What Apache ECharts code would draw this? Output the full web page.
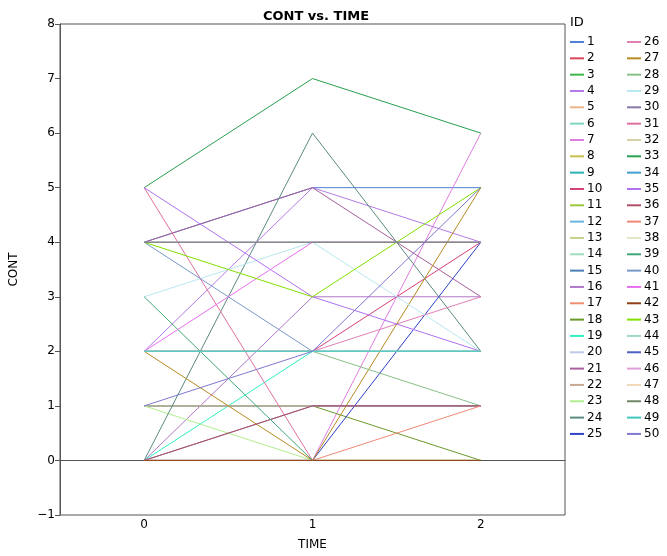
<!DOCTYPE html>
<html>
<head>
<meta charset="utf-8">
<script src="https://cdn.jsdelivr.net/npm/echarts@6/dist/echarts.min.js"></script>
<style>
  html, body { margin: 0; padding: 0; background: #fff; }
  #chart { width: 667px; height: 556px; }
</style>
</head>
<body>
<div id="chart"></div>
<script>
// Measurement times and subject IDs
const times = ['0', '1', '2'];
const ids = Array.from({ length: 50 }, (_, i) => String(i + 1));

// CONT per subject (index = ID - 1) at each time point
const cont0 = [4,0,1,2,0,2,0,0,2,2, 0,2,1,0,1,0,0,1,0,1, 4,1,1,0,0,2,2,2,3,0, 5,0,5,2,5,0,0,0,3,4, 2,0,4,2,4,4,2,4,2,1];
const cont1 = [5,0,1,5,0,2,0,0,2,2, 0,2,1,0,1,3,0,1,2,1, 5,1,0,6,0,2,0,2,4,1, 0,0,7,2,3,1,0,0,0,2, 4,0,3,2,4,4,2,4,2,2];
const cont2 = [5,0,1,4,0,2,6,0,2,4, 0,2,1,0,1,3,0,0,2,1, 3,1,0,2,4,3,5,1,2,1, 0,0,6,2,2,1,1,0,0,2, 4,0,5,2,4,4,2,4,2,5];

// Y-axis range and tick step
const yMin = -1, yMax = 8, yStep = 1;

// One colour per subject
const palette = [
  '#4f7fd6','#d9485a','#3cb84a','#b57be6','#eab58a','#7fd6c0','#e07de0','#c8c04a','#2ab0b8','#d6407a',
  '#9cc43c','#6ab4e0','#c8d08a','#a0dcc0','#4a80b8','#b078c8','#f09070','#6a9a2a','#30f0c0','#c0c8e8',
  '#a8609a','#c8a890','#b0ee90','#5a8a80','#3040c8','#e080b8','#b88a20','#88c088','#b8e8f0','#8878a8',
  '#e070a0','#d8d0a8','#28a050','#40a0d0','#b070f0','#b05068','#f08878','#e0e8c8','#40a878','#7898c8',
  '#e870f0','#904018','#80e000','#a0d8c8','#5060c0','#e0a0d8','#f0d8b8','#708868','#40c8c0','#8078d0'
];

const FONT = 'DejaVu Sans';

const series = ids.map((id, i) => ({
  name: id,
  type: 'line',
  data: [cont0[i], cont1[i], cont2[i]],
  symbol: 'none',
  showSymbol: false,
  color: palette[i],
  lineStyle: { width: 1, color: palette[i] },
  emphasis: { disabled: true },
  animation: false
}));

const legendCommon = {
  orient: 'vertical',
  top: 35,
  icon: 'rect',
  itemWidth: 14,
  itemHeight: 2,
  itemGap: 2.33,
  selectedMode: false,
  textStyle: { fontFamily: FONT, fontSize: 12, color: '#000', lineHeight: 14, padding: [0, 0, 0, -2] },
  padding: 0
};

const chart = echarts.init(document.getElementById('chart'), null, { renderer: 'canvas' });
chart.setOption({
  animation: false,
  backgroundColor: '#fff',
  title: [
    {
      text: 'CONT vs. TIME',
      left: 311, top: 5, textAlign: 'center',
      textStyle: { fontFamily: FONT, fontSize: 13, fontWeight: 'bold', color: '#000' }
    },
    {
      text: 'ID',
      left: 565, top: 11,
      textStyle: { fontFamily: FONT, fontSize: 13, fontWeight: 'normal', color: '#000' }
    }
  ],
  legend: [
    Object.assign({ left: 570, data: ids.slice(0, 25) }, legendCommon),
    Object.assign({ left: 627, data: ids.slice(25) }, legendCommon)
  ],
  grid: { left: 58, right: 102, top: 24, bottom: 31, show: true, borderColor: '#555', borderWidth: 1 },
  xAxis: {
    type: 'category',
    data: times,
    boundaryGap: true,
    name: 'TIME',
    nameLocation: 'middle',
    nameGap: 24,
    nameTextStyle: { fontFamily: FONT, fontSize: 12, color: '#000' },
    axisLine: { lineStyle: { color: '#555' } },
    axisTick: { alignWithLabel: true, length: 5, lineStyle: { color: '#555' } },
    axisLabel: { fontFamily: FONT, fontSize: 12, color: '#000', margin: 4 },
    splitLine: { show: false }
  },
  yAxis: {
    type: 'value',
    min: yMin, max: yMax, interval: yStep,
    name: 'CONT',
    nameLocation: 'middle',
    nameGap: 40,
    nameRotate: 90,
    nameTextStyle: { fontFamily: FONT, fontSize: 12, color: '#000' },
    axisLine: { show: true, lineStyle: { color: '#555' } },
    axisTick: { show: true, length: 5, lineStyle: { color: '#555' } },
    axisLabel: { fontFamily: FONT, fontSize: 12, color: '#000', margin: 5,
      formatter: v => String(v).replace('-', '\u2212') },
    splitLine: { show: false }
  },
  series: series
});
</script>
</body>
</html>
